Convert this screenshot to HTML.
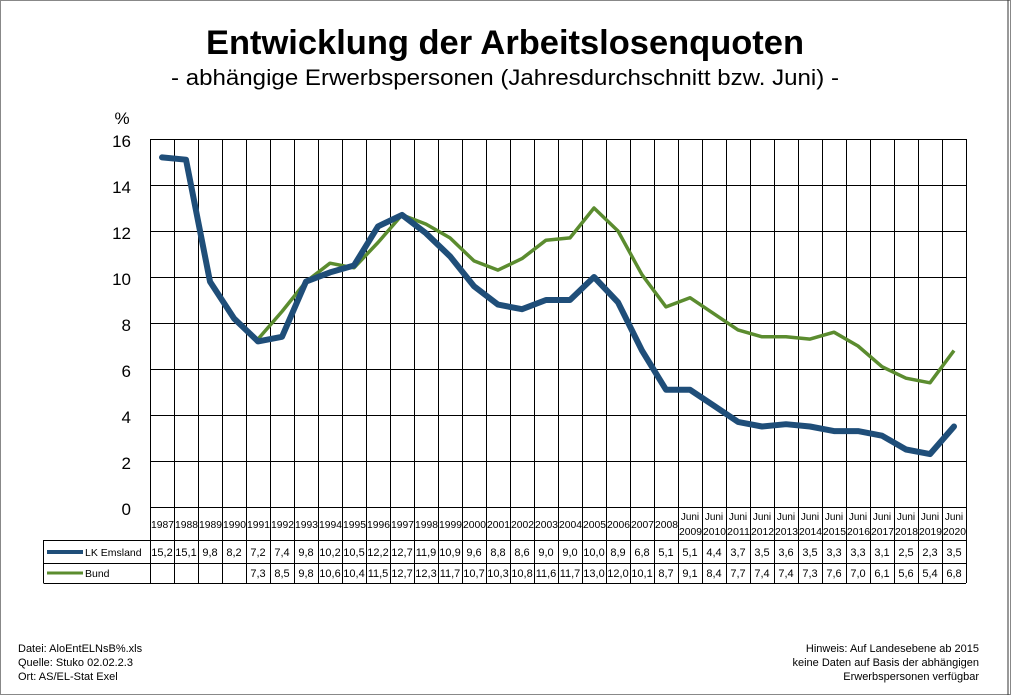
<!DOCTYPE html>
<html><head><meta charset="utf-8"><style>
html,body{margin:0;padding:0;background:#fff}
svg{display:block;font-family:"Liberation Sans",sans-serif}
</style></head><body>
<svg width="1011" height="695" viewBox="0 0 1011 695" xmlns="http://www.w3.org/2000/svg">
<rect x="0.5" y="0.5" width="1010" height="694" fill="#fff" stroke="#888"/>
<line x1="1008" y1="0" x2="1008" y2="695" stroke="#333" stroke-width="1"/>
<text x="505" y="54" text-anchor="middle" font-size="34" font-weight="bold" fill="#000" textLength="598" lengthAdjust="spacingAndGlyphs">Entwicklung der Arbeitslosenquoten</text>
<text x="505" y="85" text-anchor="middle" font-size="22" fill="#000" textLength="668" lengthAdjust="spacingAndGlyphs">- abhängige Erwerbspersonen (Jahresdurchschnitt bzw. Juni) -</text>
<text x="122" y="124" text-anchor="middle" font-size="17">%</text>
<g font-size="17" text-anchor="end">
<text x="131" y="147">16</text><text x="131" y="193">14</text><text x="131" y="239">12</text><text x="131" y="285">10</text>
<text x="131" y="331">8</text><text x="131" y="377">6</text><text x="131" y="423">4</text><text x="131" y="469">2</text><text x="131" y="515">0</text>
</g>
<g stroke="#000" stroke-width="1" fill="none">
<path d="M150 139.5H966M150 185.5H966M150 231.5H966M150 277.5H966M150 323.5H966M150 369.5H966M150 415.5H966M150 461.5H966M150 507.5H966"/>
<path d="M150.5 139V583M174.5 139V583M198.5 139V583M222.5 139V583M246.5 139V583M270.5 139V583M294.5 139V583M318.5 139V583M342.5 139V583M366.5 139V583M390.5 139V583M414.5 139V583M438.5 139V583M462.5 139V583M486.5 139V583M510.5 139V583M534.5 139V583M558.5 139V583M582.5 139V583M606.5 139V583M630.5 139V583M654.5 139V583M678.5 139V583M702.5 139V583M726.5 139V583M750.5 139V583M774.5 139V583M798.5 139V583M822.5 139V583M846.5 139V583M870.5 139V583M894.5 139V583M918.5 139V583M942.5 139V583M966.5 139V583"/>
<path d="M43.5 540.5H966M43.5 563.5H966M43.5 583.5H966M43.5 540V583"/>
</g>
<polyline fill="none" stroke="#5b8c2f" stroke-width="3.5" stroke-linejoin="round" points="258,339.1 282,311.5 306,281.6 330,263.2 354,267.8 378,242.5 402,214.9 426,224.1 450,237.9 474,260.9 498,270.1 522,258.6 546,240.2 570,237.9 594,208 618,231 642,274.7 666,306.9 690,297.7 714,313.8 738,329.9 762,336.8 786,336.8 810,339.1 834,332.2 858,346 882,366.7 906,378.2 930,382.8 954,350.6"/>
<polyline fill="none" stroke="#1f4e79" stroke-width="6" stroke-linejoin="round" stroke-linecap="round" points="162,157.4 186,159.7 210,281.6 234,318.4 258,341.4 282,336.8 306,281.6 330,272.4 354,265.5 378,226.4 402,214.9 426,233.3 450,256.3 474,286.2 498,304.6 522,309.2 546,300 570,300 594,277 618,302.3 642,350.6 666,389.7 690,389.7 714,405.8 738,421.9 762,426.5 786,424.2 810,426.5 834,431.1 858,431.1 882,435.7 906,449.5 930,454.1 954,426.5"/>
<g font-size="10" fill="#000">
<text x="151" y="528" textLength="23" lengthAdjust="spacingAndGlyphs">1987</text><text x="175" y="528" textLength="23" lengthAdjust="spacingAndGlyphs">1988</text><text x="199" y="528" textLength="23" lengthAdjust="spacingAndGlyphs">1989</text><text x="223" y="528" textLength="23" lengthAdjust="spacingAndGlyphs">1990</text><text x="247" y="528" textLength="23" lengthAdjust="spacingAndGlyphs">1991</text><text x="271" y="528" textLength="23" lengthAdjust="spacingAndGlyphs">1992</text><text x="295" y="528" textLength="23" lengthAdjust="spacingAndGlyphs">1993</text><text x="319" y="528" textLength="23" lengthAdjust="spacingAndGlyphs">1994</text><text x="343" y="528" textLength="23" lengthAdjust="spacingAndGlyphs">1995</text><text x="367" y="528" textLength="23" lengthAdjust="spacingAndGlyphs">1996</text><text x="391" y="528" textLength="23" lengthAdjust="spacingAndGlyphs">1997</text><text x="415" y="528" textLength="23" lengthAdjust="spacingAndGlyphs">1998</text><text x="439" y="528" textLength="23" lengthAdjust="spacingAndGlyphs">1999</text><text x="463" y="528" textLength="23" lengthAdjust="spacingAndGlyphs">2000</text><text x="487" y="528" textLength="23" lengthAdjust="spacingAndGlyphs">2001</text><text x="511" y="528" textLength="23" lengthAdjust="spacingAndGlyphs">2002</text><text x="535" y="528" textLength="23" lengthAdjust="spacingAndGlyphs">2003</text><text x="559" y="528" textLength="23" lengthAdjust="spacingAndGlyphs">2004</text><text x="583" y="528" textLength="23" lengthAdjust="spacingAndGlyphs">2005</text><text x="607" y="528" textLength="23" lengthAdjust="spacingAndGlyphs">2006</text><text x="631" y="528" textLength="23" lengthAdjust="spacingAndGlyphs">2007</text><text x="655" y="528" textLength="23" lengthAdjust="spacingAndGlyphs">2008</text>
</g>
<g font-size="10" text-anchor="middle">
<text x="690" y="520">Juni</text><text x="714" y="520">Juni</text><text x="738" y="520">Juni</text><text x="762" y="520">Juni</text><text x="786" y="520">Juni</text><text x="810" y="520">Juni</text><text x="834" y="520">Juni</text><text x="858" y="520">Juni</text><text x="882" y="520">Juni</text><text x="906" y="520">Juni</text><text x="930" y="520">Juni</text><text x="954" y="520">Juni</text>
</g>
<g font-size="10">
<text x="679" y="535" textLength="23" lengthAdjust="spacingAndGlyphs">2009</text><text x="703" y="535" textLength="23" lengthAdjust="spacingAndGlyphs">2010</text><text x="727" y="535" textLength="23" lengthAdjust="spacingAndGlyphs">2011</text><text x="751" y="535" textLength="23" lengthAdjust="spacingAndGlyphs">2012</text><text x="775" y="535" textLength="23" lengthAdjust="spacingAndGlyphs">2013</text><text x="799" y="535" textLength="23" lengthAdjust="spacingAndGlyphs">2014</text><text x="823" y="535" textLength="23" lengthAdjust="spacingAndGlyphs">2015</text><text x="847" y="535" textLength="23" lengthAdjust="spacingAndGlyphs">2016</text><text x="871" y="535" textLength="23" lengthAdjust="spacingAndGlyphs">2017</text><text x="895" y="535" textLength="23" lengthAdjust="spacingAndGlyphs">2018</text><text x="919" y="535" textLength="23" lengthAdjust="spacingAndGlyphs">2019</text><text x="943" y="535" textLength="23" lengthAdjust="spacingAndGlyphs">2020</text>
</g>
<line x1="47" y1="552" x2="83" y2="552" stroke="#1f4e79" stroke-width="4"/>
<line x1="47" y1="573" x2="83" y2="573" stroke="#5b8c2f" stroke-width="3"/>
<text x="85" y="556" font-size="10.5">LK Emsland</text>
<text x="85" y="577" font-size="10.5">Bund</text>
<g font-size="11" text-anchor="middle">
<text x="162" y="556">15,2</text><text x="186" y="556">15,1</text><text x="210" y="556">9,8</text><text x="234" y="556">8,2</text><text x="258" y="556">7,2</text><text x="282" y="556">7,4</text><text x="306" y="556">9,8</text><text x="330" y="556">10,2</text><text x="354" y="556">10,5</text><text x="378" y="556">12,2</text><text x="402" y="556">12,7</text><text x="426" y="556">11,9</text><text x="450" y="556">10,9</text><text x="474" y="556">9,6</text><text x="498" y="556">8,8</text><text x="522" y="556">8,6</text><text x="546" y="556">9,0</text><text x="570" y="556">9,0</text><text x="594" y="556">10,0</text><text x="618" y="556">8,9</text><text x="642" y="556">6,8</text><text x="666" y="556">5,1</text><text x="690" y="556">5,1</text><text x="714" y="556">4,4</text><text x="738" y="556">3,7</text><text x="762" y="556">3,5</text><text x="786" y="556">3,6</text><text x="810" y="556">3,5</text><text x="834" y="556">3,3</text><text x="858" y="556">3,3</text><text x="882" y="556">3,1</text><text x="906" y="556">2,5</text><text x="930" y="556">2,3</text><text x="954" y="556">3,5</text>
<text x="258" y="577">7,3</text><text x="282" y="577">8,5</text><text x="306" y="577">9,8</text><text x="330" y="577">10,6</text><text x="354" y="577">10,4</text><text x="378" y="577">11,5</text><text x="402" y="577">12,7</text><text x="426" y="577">12,3</text><text x="450" y="577">11,7</text><text x="474" y="577">10,7</text><text x="498" y="577">10,3</text><text x="522" y="577">10,8</text><text x="546" y="577">11,6</text><text x="570" y="577">11,7</text><text x="594" y="577">13,0</text><text x="618" y="577">12,0</text><text x="642" y="577">10,1</text><text x="666" y="577">8,7</text><text x="690" y="577">9,1</text><text x="714" y="577">8,4</text><text x="738" y="577">7,7</text><text x="762" y="577">7,4</text><text x="786" y="577">7,4</text><text x="810" y="577">7,3</text><text x="834" y="577">7,6</text><text x="858" y="577">7,0</text><text x="882" y="577">6,1</text><text x="906" y="577">5,6</text><text x="930" y="577">5,4</text><text x="954" y="577">6,8</text>
</g>
<g font-size="11">
<text x="18" y="652">Datei: AloEntELNsB%.xls</text>
<text x="18" y="666">Quelle: Stuko 02.02.2.3</text>
<text x="18" y="680">Ort: AS/EL-Stat Exel</text>
</g>
<g font-size="11" text-anchor="end">
<text x="979" y="652">Hinweis: Auf Landesebene ab 2015</text>
<text x="979" y="666">keine Daten auf Basis der abhängigen</text>
<text x="979" y="680">Erwerbspersonen verfügbar</text>
</g>
</svg>
</body></html>
